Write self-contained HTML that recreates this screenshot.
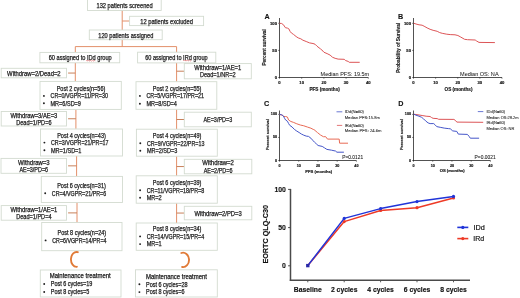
<!DOCTYPE html>
<html><head><meta charset="utf-8"><style>
html,body{margin:0;padding:0;background:#fff;}
body{width:520px;height:298px;overflow:hidden;}
svg{display:block;font-family:"Liberation Sans", sans-serif;will-change:transform;}
</style></head><body>
<svg width="520" height="298" viewBox="0 0 520 298">
<line x1="122.2" y1="10" x2="122.2" y2="30" stroke="#e3906a" stroke-width="1.0"/>
<line x1="122.2" y1="21" x2="129.6" y2="21" stroke="#e3906a" stroke-width="1.0"/>
<line x1="122.2" y1="39.7" x2="122.2" y2="46.6" stroke="#e3906a" stroke-width="1.0"/>
<line x1="75.3" y1="46.6" x2="176.6" y2="46.6" stroke="#e3906a" stroke-width="1.0"/>
<line x1="75.3" y1="46.6" x2="75.3" y2="52.4" stroke="#e3906a" stroke-width="1.0"/>
<line x1="176.6" y1="46.6" x2="176.6" y2="52.2" stroke="#e3906a" stroke-width="1.0"/>
<line x1="75.3" y1="62.8" x2="75.3" y2="81.4" stroke="#e3906a" stroke-width="1.0"/>
<line x1="75.9" y1="109.4" x2="75.9" y2="128.8" stroke="#e3906a" stroke-width="1.0"/>
<line x1="76.6" y1="155.7" x2="76.6" y2="176.5" stroke="#e3906a" stroke-width="1.0"/>
<line x1="77.0" y1="201.8" x2="77.0" y2="222.7" stroke="#e3906a" stroke-width="1.0"/>
<line x1="176.6" y1="62.9" x2="176.6" y2="81.7" stroke="#e3906a" stroke-width="1.0"/>
<line x1="176.6" y1="109.3" x2="176.6" y2="129.2" stroke="#e3906a" stroke-width="1.0"/>
<line x1="176.6" y1="156.2" x2="176.6" y2="175.9" stroke="#e3906a" stroke-width="1.0"/>
<line x1="176.6" y1="203.2" x2="176.6" y2="223.0" stroke="#e3906a" stroke-width="1.0"/>
<rect x="87.5" y="-1" width="73.70" height="11.50" fill="#fff" stroke="#d3dbd0" stroke-width="0.9"/>
<text x="124.60" y="5.70" font-size="6.3" text-anchor="middle" font-weight="normal" fill="#1e1e1e" dominant-baseline="central" textLength="56.23" lengthAdjust="spacingAndGlyphs" stroke="#1e1e1e" stroke-width="0.25">132 patients screened</text>
<rect x="129.6" y="16.3" width="74.00" height="9.30" fill="#fff" stroke="#d3dbd0" stroke-width="0.9"/>
<text x="166.60" y="21.00" font-size="6.3" text-anchor="middle" font-weight="normal" fill="#1e1e1e" dominant-baseline="central" textLength="52.74" lengthAdjust="spacingAndGlyphs" stroke="#1e1e1e" stroke-width="0.25">12 patients excluded</text>
<rect x="89.3" y="30" width="72.90" height="9.70" fill="#fff" stroke="#d3dbd0" stroke-width="0.9"/>
<text x="125.80" y="35.00" font-size="6.3" text-anchor="middle" font-weight="normal" fill="#1e1e1e" dominant-baseline="central" textLength="54.99" lengthAdjust="spacingAndGlyphs" stroke="#1e1e1e" stroke-width="0.25">120 patients assigned</text>
<rect x="39.9" y="52.4" width="79.80" height="10.40" fill="#fff" stroke="#d3dbd0" stroke-width="0.9"/>
<text x="80.20" y="57.80" font-size="6.3" text-anchor="middle" font-weight="normal" fill="#1e1e1e" dominant-baseline="central" textLength="62.99" lengthAdjust="spacingAndGlyphs" stroke="#1e1e1e" stroke-width="0.25">60 assigned to IDd group</text>
<path d="M86.1,60.8 L87.00,60.3 L87.90,61.099999999999994 L88.80,60.3 L89.70,61.099999999999994 L90.60,60.3 L91.50,61.099999999999994 L92.40,60.3 L93.30,61.099999999999994 L94.20,60.3 L95.10,61.099999999999994" fill="none" stroke="#e03030" stroke-width="0.45"/>
<rect x="137.6" y="52.2" width="78.20" height="10.70" fill="#fff" stroke="#d3dbd0" stroke-width="0.9"/>
<text x="176.40" y="57.70" font-size="6.3" text-anchor="middle" font-weight="normal" fill="#1e1e1e" dominant-baseline="central" textLength="62.54" lengthAdjust="spacingAndGlyphs" stroke="#1e1e1e" stroke-width="0.25">60 assigned to IRd group</text>
<path d="M183.3,60.6 L184.20,60.1 L185.10,60.9 L186.00,60.1 L186.90,60.9 L187.80,60.1 L188.70,60.9 L189.60,60.1 L190.50,60.9 L191.40,60.1" fill="none" stroke="#e03030" stroke-width="0.45"/>
<line x1="68.1" y1="73.05" x2="75.3" y2="73.05" stroke="#c8805a" stroke-width="1.0"/>
<rect x="1.2" y="68.3" width="65.30" height="9.50" fill="#fff" stroke="#d3dbd0" stroke-width="0.9"/>
<text x="33.85" y="73.05" font-size="6.3" text-anchor="middle" font-weight="normal" fill="#1e1e1e" dominant-baseline="central" textLength="53.50" lengthAdjust="spacingAndGlyphs" stroke="#1e1e1e" stroke-width="0.25">Withdraw=2/Dead=2</text>
<rect x="40" y="81.4" width="81.30" height="28.00" fill="#fff" stroke="#d3dbd0" stroke-width="0.9"/>
<text x="81.00" y="88.30" font-size="6.3" text-anchor="middle" font-weight="normal" fill="#1e1e1e" dominant-baseline="central" textLength="48.68" lengthAdjust="spacingAndGlyphs" stroke="#1e1e1e" stroke-width="0.25">Post 2 cycles(n=56)</text>
<circle cx="43.90" cy="95.90" r="0.95" fill="#1e1e1e"/>
<text x="50.50" y="95.70" font-size="6.3" text-anchor="start" font-weight="normal" fill="#1e1e1e" dominant-baseline="central" textLength="57.47" lengthAdjust="spacingAndGlyphs" stroke="#1e1e1e" stroke-width="0.25">CR=0/VGPR=11/PR=30</text>
<circle cx="43.90" cy="103.30" r="0.95" fill="#1e1e1e"/>
<text x="50.50" y="103.10" font-size="6.3" text-anchor="start" font-weight="normal" fill="#1e1e1e" dominant-baseline="central" textLength="30.43" lengthAdjust="spacingAndGlyphs" stroke="#1e1e1e" stroke-width="0.25">MR=6/SD=9</text>
<line x1="68.1" y1="118.75" x2="75.9" y2="118.75" stroke="#c8805a" stroke-width="1.0"/>
<rect x="1.2" y="111.5" width="65.30" height="14.50" fill="#fff" stroke="#d3dbd0" stroke-width="0.9"/>
<text x="33.85" y="115.05" font-size="6.3" text-anchor="middle" font-weight="normal" fill="#1e1e1e" dominant-baseline="central" textLength="46.94" lengthAdjust="spacingAndGlyphs" stroke="#1e1e1e" stroke-width="0.25">Withdraw=3/AE=3</text>
<text x="33.85" y="122.45" font-size="6.3" text-anchor="middle" font-weight="normal" fill="#1e1e1e" dominant-baseline="central" textLength="35.28" lengthAdjust="spacingAndGlyphs" stroke="#1e1e1e" stroke-width="0.25">Dead=1/PD=6</text>
<rect x="40.5" y="129.0" width="82.00" height="27.00" fill="#fff" stroke="#d3dbd0" stroke-width="0.9"/>
<text x="81.50" y="135.00" font-size="6.3" text-anchor="middle" font-weight="normal" fill="#1e1e1e" dominant-baseline="central" textLength="48.68" lengthAdjust="spacingAndGlyphs" stroke="#1e1e1e" stroke-width="0.25">Post 4 cycles(n=43)</text>
<circle cx="44.40" cy="142.60" r="0.95" fill="#1e1e1e"/>
<text x="51.00" y="142.40" font-size="6.3" text-anchor="start" font-weight="normal" fill="#1e1e1e" dominant-baseline="central" textLength="57.47" lengthAdjust="spacingAndGlyphs" stroke="#1e1e1e" stroke-width="0.25">CR=3/VGPR=21/PR=17</text>
<circle cx="44.40" cy="150.20" r="0.95" fill="#1e1e1e"/>
<text x="51.00" y="150.00" font-size="6.3" text-anchor="start" font-weight="normal" fill="#1e1e1e" dominant-baseline="central" textLength="30.43" lengthAdjust="spacingAndGlyphs" stroke="#1e1e1e" stroke-width="0.25">MR=1/SD=1</text>
<line x1="68.1" y1="165.85000000000002" x2="76.6" y2="165.85000000000002" stroke="#c8805a" stroke-width="1.0"/>
<rect x="1.0" y="158.4" width="65.50" height="14.90" fill="#fff" stroke="#d3dbd0" stroke-width="0.9"/>
<text x="33.75" y="162.15" font-size="6.3" text-anchor="middle" font-weight="normal" fill="#1e1e1e" dominant-baseline="central" textLength="31.57" lengthAdjust="spacingAndGlyphs" stroke="#1e1e1e" stroke-width="0.25">Withdraw=3</text>
<text x="33.75" y="169.55" font-size="6.3" text-anchor="middle" font-weight="normal" fill="#1e1e1e" dominant-baseline="central" textLength="28.72" lengthAdjust="spacingAndGlyphs" stroke="#1e1e1e" stroke-width="0.25">AE=3/PD=6</text>
<rect x="41.3" y="176.4" width="81.20" height="26.10" fill="#fff" stroke="#d3dbd0" stroke-width="0.9"/>
<text x="81.50" y="185.90" font-size="6.3" text-anchor="middle" font-weight="normal" fill="#1e1e1e" dominant-baseline="central" textLength="48.68" lengthAdjust="spacingAndGlyphs" stroke="#1e1e1e" stroke-width="0.25">Post 6 cycles(n=31)</text>
<circle cx="45.20" cy="193.20" r="0.95" fill="#1e1e1e"/>
<text x="51.80" y="193.00" font-size="6.3" text-anchor="start" font-weight="normal" fill="#1e1e1e" dominant-baseline="central" textLength="54.30" lengthAdjust="spacingAndGlyphs" stroke="#1e1e1e" stroke-width="0.25">CR=4/VGPR=21/PR=6</text>
<line x1="68.1" y1="212.89999999999998" x2="77.0" y2="212.89999999999998" stroke="#c8805a" stroke-width="1.0"/>
<rect x="1.2" y="205.6" width="65.30" height="14.60" fill="#fff" stroke="#d3dbd0" stroke-width="0.9"/>
<text x="33.85" y="209.20" font-size="6.3" text-anchor="middle" font-weight="normal" fill="#1e1e1e" dominant-baseline="central" textLength="46.94" lengthAdjust="spacingAndGlyphs" stroke="#1e1e1e" stroke-width="0.25">Withdraw=1/AE=1</text>
<text x="33.85" y="216.60" font-size="6.3" text-anchor="middle" font-weight="normal" fill="#1e1e1e" dominant-baseline="central" textLength="35.28" lengthAdjust="spacingAndGlyphs" stroke="#1e1e1e" stroke-width="0.25">Dead=1/PD=4</text>
<rect x="41.7" y="222.5" width="80.30" height="28.20" fill="#fff" stroke="#d3dbd0" stroke-width="0.9"/>
<text x="81.80" y="232.80" font-size="6.3" text-anchor="middle" font-weight="normal" fill="#1e1e1e" dominant-baseline="central" textLength="48.68" lengthAdjust="spacingAndGlyphs" stroke="#1e1e1e" stroke-width="0.25">Post 8 cycles(n=24)</text>
<circle cx="45.60" cy="240.40" r="0.95" fill="#1e1e1e"/>
<text x="52.20" y="240.20" font-size="6.3" text-anchor="start" font-weight="normal" fill="#1e1e1e" dominant-baseline="central" textLength="54.30" lengthAdjust="spacingAndGlyphs" stroke="#1e1e1e" stroke-width="0.25">CR=6/VGPR=14/PR=4</text>
<rect x="40.3" y="270.0" width="80.70" height="27.00" fill="#fff" stroke="#d3dbd0" stroke-width="0.9"/>
<text x="80.20" y="275.80" font-size="6.3" text-anchor="middle" font-weight="normal" fill="#1e1e1e" dominant-baseline="central" textLength="60.94" lengthAdjust="spacingAndGlyphs" stroke="#1e1e1e" stroke-width="0.25">Maintenance treatment</text>
<circle cx="44.20" cy="284.00" r="0.95" fill="#1e1e1e"/>
<text x="50.80" y="283.80" font-size="6.3" text-anchor="start" font-weight="normal" fill="#1e1e1e" dominant-baseline="central" textLength="41.61" lengthAdjust="spacingAndGlyphs" stroke="#1e1e1e" stroke-width="0.25">Post 6 cycles=19</text>
<circle cx="44.20" cy="292.00" r="0.95" fill="#1e1e1e"/>
<text x="50.80" y="291.80" font-size="6.3" text-anchor="start" font-weight="normal" fill="#1e1e1e" dominant-baseline="central" textLength="38.44" lengthAdjust="spacingAndGlyphs" stroke="#1e1e1e" stroke-width="0.25">Post 8 cycles=5</text>
<line x1="176.6" y1="71.2" x2="184.3" y2="71.2" stroke="#c8805a" stroke-width="1.0"/>
<rect x="184.3" y="63.6" width="67.00" height="15.20" fill="#fff" stroke="#d3dbd0" stroke-width="0.9"/>
<text x="217.80" y="67.50" font-size="6.3" text-anchor="middle" font-weight="normal" fill="#1e1e1e" dominant-baseline="central" textLength="46.94" lengthAdjust="spacingAndGlyphs" stroke="#1e1e1e" stroke-width="0.25">Withdraw=1/AE=1</text>
<text x="217.80" y="74.90" font-size="6.3" text-anchor="middle" font-weight="normal" fill="#1e1e1e" dominant-baseline="central" textLength="35.64" lengthAdjust="spacingAndGlyphs" stroke="#1e1e1e" stroke-width="0.25">Dead=1/NR=2</text>
<rect x="136" y="81.7" width="80.80" height="27.60" fill="#fff" stroke="#d3dbd0" stroke-width="0.9"/>
<text x="177.10" y="88.30" font-size="6.3" text-anchor="middle" font-weight="normal" fill="#1e1e1e" dominant-baseline="central" textLength="48.68" lengthAdjust="spacingAndGlyphs" stroke="#1e1e1e" stroke-width="0.25">Post 2 cycles(n=55)</text>
<circle cx="139.90" cy="95.90" r="0.95" fill="#1e1e1e"/>
<text x="146.50" y="95.70" font-size="6.3" text-anchor="start" font-weight="normal" fill="#1e1e1e" dominant-baseline="central" textLength="57.47" lengthAdjust="spacingAndGlyphs" stroke="#1e1e1e" stroke-width="0.25">CR=5/VGPR=17/PR=21</text>
<circle cx="139.90" cy="103.70" r="0.95" fill="#1e1e1e"/>
<text x="146.50" y="103.50" font-size="6.3" text-anchor="start" font-weight="normal" fill="#1e1e1e" dominant-baseline="central" textLength="30.43" lengthAdjust="spacingAndGlyphs" stroke="#1e1e1e" stroke-width="0.25">MR=8/SD=4</text>
<line x1="176.6" y1="119.5" x2="184.3" y2="119.5" stroke="#c8805a" stroke-width="1.0"/>
<rect x="184.3" y="112.2" width="67.00" height="14.60" fill="#fff" stroke="#d3dbd0" stroke-width="0.9"/>
<text x="217.80" y="119.50" font-size="6.3" text-anchor="middle" font-weight="normal" fill="#1e1e1e" dominant-baseline="central" textLength="28.72" lengthAdjust="spacingAndGlyphs" stroke="#1e1e1e" stroke-width="0.25">AE=3/PD=3</text>
<rect x="136.4" y="129.2" width="80.90" height="27.00" fill="#fff" stroke="#d3dbd0" stroke-width="0.9"/>
<text x="177.10" y="135.40" font-size="6.3" text-anchor="middle" font-weight="normal" fill="#1e1e1e" dominant-baseline="central" textLength="48.68" lengthAdjust="spacingAndGlyphs" stroke="#1e1e1e" stroke-width="0.25">Post 4 cycles(n=49)</text>
<circle cx="140.30" cy="143.20" r="0.95" fill="#1e1e1e"/>
<text x="146.90" y="143.00" font-size="6.3" text-anchor="start" font-weight="normal" fill="#1e1e1e" dominant-baseline="central" textLength="57.47" lengthAdjust="spacingAndGlyphs" stroke="#1e1e1e" stroke-width="0.25">CR=9/VGPR=22/PR=13</text>
<circle cx="140.30" cy="150.80" r="0.95" fill="#1e1e1e"/>
<text x="146.90" y="150.60" font-size="6.3" text-anchor="start" font-weight="normal" fill="#1e1e1e" dominant-baseline="central" textLength="30.43" lengthAdjust="spacingAndGlyphs" stroke="#1e1e1e" stroke-width="0.25">MR=2/SD=3</text>
<line x1="176.6" y1="166.55" x2="184.3" y2="166.55" stroke="#c8805a" stroke-width="1.0"/>
<rect x="184.3" y="159.3" width="67.50" height="14.50" fill="#fff" stroke="#d3dbd0" stroke-width="0.9"/>
<text x="218.05" y="162.85" font-size="6.3" text-anchor="middle" font-weight="normal" fill="#1e1e1e" dominant-baseline="central" textLength="31.57" lengthAdjust="spacingAndGlyphs" stroke="#1e1e1e" stroke-width="0.25">Withdraw=2</text>
<text x="218.05" y="170.25" font-size="6.3" text-anchor="middle" font-weight="normal" fill="#1e1e1e" dominant-baseline="central" textLength="28.72" lengthAdjust="spacingAndGlyphs" stroke="#1e1e1e" stroke-width="0.25">AE=2/PD=6</text>
<rect x="136.2" y="175.8" width="81.10" height="27.40" fill="#fff" stroke="#d3dbd0" stroke-width="0.9"/>
<text x="177.10" y="182.30" font-size="6.3" text-anchor="middle" font-weight="normal" fill="#1e1e1e" dominant-baseline="central" textLength="48.68" lengthAdjust="spacingAndGlyphs" stroke="#1e1e1e" stroke-width="0.25">Post 6 cycles(n=39)</text>
<circle cx="140.10" cy="190.20" r="0.95" fill="#1e1e1e"/>
<text x="146.70" y="190.00" font-size="6.3" text-anchor="start" font-weight="normal" fill="#1e1e1e" dominant-baseline="central" textLength="57.47" lengthAdjust="spacingAndGlyphs" stroke="#1e1e1e" stroke-width="0.25">CR=11/VGPR=18/PR=8</text>
<circle cx="140.10" cy="197.70" r="0.95" fill="#1e1e1e"/>
<text x="146.70" y="197.50" font-size="6.3" text-anchor="start" font-weight="normal" fill="#1e1e1e" dominant-baseline="central" textLength="15.02" lengthAdjust="spacingAndGlyphs" stroke="#1e1e1e" stroke-width="0.25">MR=2</text>
<line x1="176.6" y1="213.05" x2="184.3" y2="213.05" stroke="#c8805a" stroke-width="1.0"/>
<rect x="184.3" y="206.3" width="67.50" height="13.50" fill="#fff" stroke="#d3dbd0" stroke-width="0.9"/>
<text x="218.05" y="213.05" font-size="6.3" text-anchor="middle" font-weight="normal" fill="#1e1e1e" dominant-baseline="central" textLength="47.34" lengthAdjust="spacingAndGlyphs" stroke="#1e1e1e" stroke-width="0.25">Withdraw=2/PD=3</text>
<rect x="136.2" y="223.0" width="81.10" height="27.30" fill="#fff" stroke="#d3dbd0" stroke-width="0.9"/>
<text x="177.10" y="228.90" font-size="6.3" text-anchor="middle" font-weight="normal" fill="#1e1e1e" dominant-baseline="central" textLength="48.68" lengthAdjust="spacingAndGlyphs" stroke="#1e1e1e" stroke-width="0.25">Post 8 cycles(n=34)</text>
<circle cx="140.10" cy="236.40" r="0.95" fill="#1e1e1e"/>
<text x="146.70" y="236.20" font-size="6.3" text-anchor="start" font-weight="normal" fill="#1e1e1e" dominant-baseline="central" textLength="57.47" lengthAdjust="spacingAndGlyphs" stroke="#1e1e1e" stroke-width="0.25">CR=14/VGPR=15/PR=4</text>
<circle cx="140.10" cy="244.10" r="0.95" fill="#1e1e1e"/>
<text x="146.70" y="243.90" font-size="6.3" text-anchor="start" font-weight="normal" fill="#1e1e1e" dominant-baseline="central" textLength="15.02" lengthAdjust="spacingAndGlyphs" stroke="#1e1e1e" stroke-width="0.25">MR=1</text>
<rect x="135.5" y="269.8" width="81.80" height="27.20" fill="#fff" stroke="#d3dbd0" stroke-width="0.9"/>
<text x="176.50" y="276.30" font-size="6.3" text-anchor="middle" font-weight="normal" fill="#1e1e1e" dominant-baseline="central" textLength="60.94" lengthAdjust="spacingAndGlyphs" stroke="#1e1e1e" stroke-width="0.25">Maintenance treatment</text>
<circle cx="139.40" cy="284.20" r="0.95" fill="#1e1e1e"/>
<text x="146.00" y="284.00" font-size="6.3" text-anchor="start" font-weight="normal" fill="#1e1e1e" dominant-baseline="central" textLength="41.61" lengthAdjust="spacingAndGlyphs" stroke="#1e1e1e" stroke-width="0.25">Post 6 cycles=28</text>
<circle cx="139.40" cy="292.10" r="0.95" fill="#1e1e1e"/>
<text x="146.00" y="291.90" font-size="6.3" text-anchor="start" font-weight="normal" fill="#1e1e1e" dominant-baseline="central" textLength="38.44" lengthAdjust="spacingAndGlyphs" stroke="#1e1e1e" stroke-width="0.25">Post 8 cycles=6</text>
<path d="M77.8,252.2 A5.6,7.4 0 1 0 76.9,266.8" fill="none" stroke="#e07a36" stroke-width="1.85" stroke-linecap="round"/>
<path d="M181.3,253 A6,7.2 0 1 1 182.1,267" fill="none" stroke="#e07a36" stroke-width="1.85" stroke-linecap="round"/>
<line x1="279.5" y1="18" x2="279.5" y2="77.9" stroke="#333" stroke-width="0.85"/>
<line x1="279.1" y1="77.5" x2="368.3" y2="77.5" stroke="#333" stroke-width="0.85"/>
<line x1="278.2" y1="23.299999999999997" x2="279.5" y2="23.299999999999997" stroke="#1a1a1a" stroke-width="0.6"/>
<text x="277.00" y="23.30" font-size="4.2" text-anchor="end" font-weight="bold" fill="#1a1a1a" dominant-baseline="central" stroke="#1a1a1a" stroke-width="0.18">100</text>
<line x1="278.2" y1="50.4" x2="279.5" y2="50.4" stroke="#1a1a1a" stroke-width="0.6"/>
<text x="277.00" y="50.40" font-size="4.2" text-anchor="end" font-weight="bold" fill="#1a1a1a" dominant-baseline="central" stroke="#1a1a1a" stroke-width="0.18">50</text>
<line x1="278.2" y1="77.5" x2="279.5" y2="77.5" stroke="#1a1a1a" stroke-width="0.6"/>
<text x="277.00" y="77.50" font-size="4.2" text-anchor="end" font-weight="bold" fill="#1a1a1a" dominant-baseline="central" stroke="#1a1a1a" stroke-width="0.18">0</text>
<line x1="279.5" y1="77.5" x2="279.5" y2="78.7" stroke="#1a1a1a" stroke-width="0.6"/>
<text x="279.50" y="82.70" font-size="4.2" text-anchor="middle" font-weight="bold" fill="#1a1a1a" dominant-baseline="central" stroke="#1a1a1a" stroke-width="0.18">0</text>
<line x1="301.7" y1="77.5" x2="301.7" y2="78.7" stroke="#1a1a1a" stroke-width="0.6"/>
<text x="301.70" y="82.70" font-size="4.2" text-anchor="middle" font-weight="bold" fill="#1a1a1a" dominant-baseline="central" stroke="#1a1a1a" stroke-width="0.18">10</text>
<line x1="323.9" y1="77.5" x2="323.9" y2="78.7" stroke="#1a1a1a" stroke-width="0.6"/>
<text x="323.90" y="82.70" font-size="4.2" text-anchor="middle" font-weight="bold" fill="#1a1a1a" dominant-baseline="central" stroke="#1a1a1a" stroke-width="0.18">20</text>
<line x1="346.1" y1="77.5" x2="346.1" y2="78.7" stroke="#1a1a1a" stroke-width="0.6"/>
<text x="346.10" y="82.70" font-size="4.2" text-anchor="middle" font-weight="bold" fill="#1a1a1a" dominant-baseline="central" stroke="#1a1a1a" stroke-width="0.18">30</text>
<line x1="368.3" y1="77.5" x2="368.3" y2="78.7" stroke="#1a1a1a" stroke-width="0.6"/>
<text x="368.30" y="82.70" font-size="4.2" text-anchor="middle" font-weight="bold" fill="#1a1a1a" dominant-baseline="central" stroke="#1a1a1a" stroke-width="0.18">40</text>
<text x="324.60" y="89.60" font-size="4.7" text-anchor="middle" font-weight="bold" fill="#1a1a1a" dominant-baseline="central" textLength="30.40" lengthAdjust="spacingAndGlyphs" stroke="#1a1a1a" stroke-width="0.18">PFS (months)</text>
<text transform="translate(264.3,47.4) rotate(-90)" font-size="4.7" font-weight="bold" text-anchor="middle" dominant-baseline="central" fill="#1a1a1a" stroke="#1a1a1a" stroke-width="0.15" textLength="36.3" lengthAdjust="spacingAndGlyphs">Percent survival</text>
<text x="264.50" y="16.90" font-size="7.2" text-anchor="start" font-weight="bold" fill="#111" dominant-baseline="central" stroke="#111" stroke-width="0.1">A</text>
<polyline points="279.5,23.4 281.4,23.4 283.4,24.7 285.4,27.7 287.4,28.1 288.8,28.8 290.1,31.4 291.4,33 293.5,34.4 296.1,36.5 298.2,37.9 300.8,38.8 302.9,40.2 306.2,41.5 309.6,42.9 313,43.5 315,44.2 317,46.2 318,47 320.5,48.9 323,51.1 324,52.3 327.1,53.6 330.1,55.1 332.6,57.3 335.1,58.3 338.1,59.1 344.2,59.3 345.7,60.6 348.2,61.4 349.2,62.3 359.7,62.3" fill="none" stroke="#dc5456" stroke-width="1.0" stroke-linejoin="round"/>
<text x="320.60" y="73.60" font-size="5.5" text-anchor="start" font-weight="normal" fill="#1a1a1a" dominant-baseline="central" textLength="48.60" lengthAdjust="spacingAndGlyphs" stroke="#1a1a1a" stroke-width="0.04">Median PFS: 19.5m</text>
<line x1="413.5" y1="18" x2="413.5" y2="77.9" stroke="#333" stroke-width="0.85"/>
<line x1="413.1" y1="77.5" x2="502.0" y2="77.5" stroke="#333" stroke-width="0.85"/>
<line x1="412.2" y1="23.299999999999997" x2="413.5" y2="23.299999999999997" stroke="#1a1a1a" stroke-width="0.6"/>
<text x="411.00" y="23.30" font-size="4.2" text-anchor="end" font-weight="bold" fill="#1a1a1a" dominant-baseline="central" stroke="#1a1a1a" stroke-width="0.18">100</text>
<line x1="412.2" y1="50.4" x2="413.5" y2="50.4" stroke="#1a1a1a" stroke-width="0.6"/>
<text x="411.00" y="50.40" font-size="4.2" text-anchor="end" font-weight="bold" fill="#1a1a1a" dominant-baseline="central" stroke="#1a1a1a" stroke-width="0.18">50</text>
<line x1="412.2" y1="77.5" x2="413.5" y2="77.5" stroke="#1a1a1a" stroke-width="0.6"/>
<text x="411.00" y="77.50" font-size="4.2" text-anchor="end" font-weight="bold" fill="#1a1a1a" dominant-baseline="central" stroke="#1a1a1a" stroke-width="0.18">0</text>
<line x1="413.5" y1="77.5" x2="413.5" y2="78.7" stroke="#1a1a1a" stroke-width="0.6"/>
<text x="413.50" y="82.70" font-size="4.2" text-anchor="middle" font-weight="bold" fill="#1a1a1a" dominant-baseline="central" stroke="#1a1a1a" stroke-width="0.18">0</text>
<line x1="435.625" y1="77.5" x2="435.625" y2="78.7" stroke="#1a1a1a" stroke-width="0.6"/>
<text x="435.62" y="82.70" font-size="4.2" text-anchor="middle" font-weight="bold" fill="#1a1a1a" dominant-baseline="central" stroke="#1a1a1a" stroke-width="0.18">10</text>
<line x1="457.75" y1="77.5" x2="457.75" y2="78.7" stroke="#1a1a1a" stroke-width="0.6"/>
<text x="457.75" y="82.70" font-size="4.2" text-anchor="middle" font-weight="bold" fill="#1a1a1a" dominant-baseline="central" stroke="#1a1a1a" stroke-width="0.18">20</text>
<line x1="479.875" y1="77.5" x2="479.875" y2="78.7" stroke="#1a1a1a" stroke-width="0.6"/>
<text x="479.88" y="82.70" font-size="4.2" text-anchor="middle" font-weight="bold" fill="#1a1a1a" dominant-baseline="central" stroke="#1a1a1a" stroke-width="0.18">30</text>
<line x1="502.0" y1="77.5" x2="502.0" y2="78.7" stroke="#1a1a1a" stroke-width="0.6"/>
<text x="502.00" y="82.70" font-size="4.2" text-anchor="middle" font-weight="bold" fill="#1a1a1a" dominant-baseline="central" stroke="#1a1a1a" stroke-width="0.18">40</text>
<text x="458.50" y="89.40" font-size="4.7" text-anchor="middle" font-weight="bold" fill="#1a1a1a" dominant-baseline="central" textLength="27.90" lengthAdjust="spacingAndGlyphs" stroke="#1a1a1a" stroke-width="0.18">OS (months)</text>
<text transform="translate(398.6,47.8) rotate(-90)" font-size="4.7" font-weight="bold" text-anchor="middle" dominant-baseline="central" fill="#1a1a1a" stroke="#1a1a1a" stroke-width="0.15" textLength="50" lengthAdjust="spacingAndGlyphs">Probability of Survival</text>
<text x="398.10" y="16.80" font-size="7.2" text-anchor="start" font-weight="bold" fill="#111" dominant-baseline="central" stroke="#111" stroke-width="0.1">B</text>
<polyline points="413.7,23.2 416,24 419,24.8 422.1,25.2 424.1,26.2 427.1,27.9 430.1,29.3 433.1,30.3 437.2,31.3 439.7,32.6 442.2,33.3 446.2,34.1 450.2,34.6 455,34.8 457.9,35.5 460.8,37.1 464.6,39.3 467.5,39.7 475.2,40 476.6,41 479,42.4 494.9,42.6" fill="none" stroke="#dc5456" stroke-width="1.0" stroke-linejoin="round"/>
<text x="460.00" y="73.60" font-size="5.5" text-anchor="start" font-weight="normal" fill="#1a1a1a" dominant-baseline="central" textLength="38.60" lengthAdjust="spacingAndGlyphs" stroke="#1a1a1a" stroke-width="0.04">Median OS: NA</text>
<line x1="279.5" y1="110.5" x2="279.5" y2="160.9" stroke="#333" stroke-width="0.85"/>
<line x1="279.1" y1="160.5" x2="356.4" y2="160.5" stroke="#333" stroke-width="0.85"/>
<line x1="278.2" y1="114.4" x2="279.5" y2="114.4" stroke="#1a1a1a" stroke-width="0.6"/>
<text x="277.00" y="114.40" font-size="3.7" text-anchor="end" font-weight="bold" fill="#1a1a1a" dominant-baseline="central" stroke="#1a1a1a" stroke-width="0.18">100</text>
<line x1="278.2" y1="137.45" x2="279.5" y2="137.45" stroke="#1a1a1a" stroke-width="0.6"/>
<text x="277.00" y="137.45" font-size="3.7" text-anchor="end" font-weight="bold" fill="#1a1a1a" dominant-baseline="central" stroke="#1a1a1a" stroke-width="0.18">50</text>
<line x1="278.2" y1="160.5" x2="279.5" y2="160.5" stroke="#1a1a1a" stroke-width="0.6"/>
<text x="277.00" y="160.50" font-size="3.7" text-anchor="end" font-weight="bold" fill="#1a1a1a" dominant-baseline="central" stroke="#1a1a1a" stroke-width="0.18">0</text>
<line x1="279.5" y1="160.5" x2="279.5" y2="161.7" stroke="#1a1a1a" stroke-width="0.6"/>
<text x="279.50" y="165.50" font-size="3.7" text-anchor="middle" font-weight="bold" fill="#1a1a1a" dominant-baseline="central" stroke="#1a1a1a" stroke-width="0.18">0</text>
<line x1="298.725" y1="160.5" x2="298.725" y2="161.7" stroke="#1a1a1a" stroke-width="0.6"/>
<text x="298.73" y="165.50" font-size="3.7" text-anchor="middle" font-weight="bold" fill="#1a1a1a" dominant-baseline="central" stroke="#1a1a1a" stroke-width="0.18">10</text>
<line x1="317.95" y1="160.5" x2="317.95" y2="161.7" stroke="#1a1a1a" stroke-width="0.6"/>
<text x="317.95" y="165.50" font-size="3.7" text-anchor="middle" font-weight="bold" fill="#1a1a1a" dominant-baseline="central" stroke="#1a1a1a" stroke-width="0.18">20</text>
<line x1="337.175" y1="160.5" x2="337.175" y2="161.7" stroke="#1a1a1a" stroke-width="0.6"/>
<text x="337.18" y="165.50" font-size="3.7" text-anchor="middle" font-weight="bold" fill="#1a1a1a" dominant-baseline="central" stroke="#1a1a1a" stroke-width="0.18">30</text>
<line x1="356.4" y1="160.5" x2="356.4" y2="161.7" stroke="#1a1a1a" stroke-width="0.6"/>
<text x="356.40" y="165.50" font-size="3.7" text-anchor="middle" font-weight="bold" fill="#1a1a1a" dominant-baseline="central" stroke="#1a1a1a" stroke-width="0.18">40</text>
<text x="318.70" y="171.30" font-size="4.1" text-anchor="middle" font-weight="bold" fill="#1a1a1a" dominant-baseline="central" textLength="26.80" lengthAdjust="spacingAndGlyphs" stroke="#1a1a1a" stroke-width="0.18">PFS (months)</text>
<text transform="translate(267.0,134.6) rotate(-90)" font-size="4.1" font-weight="bold" text-anchor="middle" dominant-baseline="central" fill="#1a1a1a" stroke="#1a1a1a" stroke-width="0.15" textLength="31" lengthAdjust="spacingAndGlyphs">Percent survival</text>
<text x="264.00" y="103.40" font-size="7.2" text-anchor="start" font-weight="bold" fill="#111" dominant-baseline="central" stroke="#111" stroke-width="0.1">C</text>
<polyline points="279.6,114.5 282.7,115.3 283.9,116.5 285.6,116.5 287.4,117 288.6,120 290.9,121.5 293.3,122.3 296.8,123.8 300.3,125 303.8,125.8 307.3,127 310.9,128.2 313.2,129.4 314,129.6 317.5,132.6 320.5,135 323.4,136.7 325.7,136.7 327.5,139.1 339.2,139.1 339.6,143.2 348,143.2" fill="none" stroke="#e86a55" stroke-width="1.0" stroke-linejoin="round"/>
<polyline points="279.6,114.5 281.5,114.7 283.3,115.9 284.5,118.2 285.6,120 287.4,121.2 288.6,123.5 289.7,125.3 292.1,127 294.4,129.4 296.8,131.1 299.1,132.5 301.5,134.1 303.8,135.2 306.2,136.1 308.5,136.4 310.9,138.2 313.2,140.8 314.5,142.2 316.3,143.8 318.1,145.5 322.2,146.4 324.6,147.9 326.9,149.4 331.6,150.2 335.7,151.1 336.9,152.2 343.9,152.2" fill="none" stroke="#4455c8" stroke-width="1.0" stroke-linejoin="round"/>
<line x1="336.5" y1="111.8" x2="342.3" y2="111.8" stroke="#4455c8" stroke-width="0.8"/>
<line x1="336.9" y1="125.4" x2="342.2" y2="125.4" stroke="#dc5456" stroke-width="0.8"/>
<text x="344.70" y="111.80" font-size="4.1" text-anchor="start" font-weight="normal" fill="#1a1a1a" dominant-baseline="central" textLength="19.30" lengthAdjust="spacingAndGlyphs" stroke="#1a1a1a" stroke-width="0.06">IDd(N=60)</text>
<text x="344.70" y="117.10" font-size="4.1" text-anchor="start" font-weight="normal" fill="#1a1a1a" dominant-baseline="central" textLength="35.20" lengthAdjust="spacingAndGlyphs" stroke="#1a1a1a" stroke-width="0.06">Median PFS:15.8m</text>
<text x="344.70" y="125.30" font-size="4.1" text-anchor="start" font-weight="normal" fill="#1a1a1a" dominant-baseline="central" textLength="19.30" lengthAdjust="spacingAndGlyphs" stroke="#1a1a1a" stroke-width="0.06">IRd(N=60)</text>
<text x="344.70" y="130.80" font-size="4.1" text-anchor="start" font-weight="normal" fill="#1a1a1a" dominant-baseline="central" textLength="36.90" lengthAdjust="spacingAndGlyphs" stroke="#1a1a1a" stroke-width="0.06">Median PFS: 24.6m</text>
<text x="342.30" y="157.00" font-size="5.2" text-anchor="start" font-weight="normal" fill="#1a1a1a" dominant-baseline="central" textLength="20.80" lengthAdjust="spacingAndGlyphs" stroke="#1a1a1a" stroke-width="0.08">P=0.0121</text>
<line x1="413.5" y1="110.5" x2="413.5" y2="160.9" stroke="#333" stroke-width="0.85"/>
<line x1="413.1" y1="160.5" x2="490.4" y2="160.5" stroke="#333" stroke-width="0.85"/>
<line x1="412.2" y1="114.4" x2="413.5" y2="114.4" stroke="#1a1a1a" stroke-width="0.6"/>
<text x="411.00" y="114.40" font-size="3.7" text-anchor="end" font-weight="bold" fill="#1a1a1a" dominant-baseline="central" stroke="#1a1a1a" stroke-width="0.18">100</text>
<line x1="412.2" y1="137.45" x2="413.5" y2="137.45" stroke="#1a1a1a" stroke-width="0.6"/>
<text x="411.00" y="137.45" font-size="3.7" text-anchor="end" font-weight="bold" fill="#1a1a1a" dominant-baseline="central" stroke="#1a1a1a" stroke-width="0.18">50</text>
<line x1="412.2" y1="160.5" x2="413.5" y2="160.5" stroke="#1a1a1a" stroke-width="0.6"/>
<text x="411.00" y="160.50" font-size="3.7" text-anchor="end" font-weight="bold" fill="#1a1a1a" dominant-baseline="central" stroke="#1a1a1a" stroke-width="0.18">0</text>
<line x1="413.5" y1="160.5" x2="413.5" y2="161.7" stroke="#1a1a1a" stroke-width="0.6"/>
<text x="413.50" y="165.50" font-size="3.7" text-anchor="middle" font-weight="bold" fill="#1a1a1a" dominant-baseline="central" stroke="#1a1a1a" stroke-width="0.18">0</text>
<line x1="432.725" y1="160.5" x2="432.725" y2="161.7" stroke="#1a1a1a" stroke-width="0.6"/>
<text x="432.73" y="165.50" font-size="3.7" text-anchor="middle" font-weight="bold" fill="#1a1a1a" dominant-baseline="central" stroke="#1a1a1a" stroke-width="0.18">10</text>
<line x1="451.95" y1="160.5" x2="451.95" y2="161.7" stroke="#1a1a1a" stroke-width="0.6"/>
<text x="451.95" y="165.50" font-size="3.7" text-anchor="middle" font-weight="bold" fill="#1a1a1a" dominant-baseline="central" stroke="#1a1a1a" stroke-width="0.18">20</text>
<line x1="471.175" y1="160.5" x2="471.175" y2="161.7" stroke="#1a1a1a" stroke-width="0.6"/>
<text x="471.18" y="165.50" font-size="3.7" text-anchor="middle" font-weight="bold" fill="#1a1a1a" dominant-baseline="central" stroke="#1a1a1a" stroke-width="0.18">30</text>
<line x1="490.4" y1="160.5" x2="490.4" y2="161.7" stroke="#1a1a1a" stroke-width="0.6"/>
<text x="490.40" y="165.50" font-size="3.7" text-anchor="middle" font-weight="bold" fill="#1a1a1a" dominant-baseline="central" stroke="#1a1a1a" stroke-width="0.18">40</text>
<text x="452.20" y="170.80" font-size="4.1" text-anchor="middle" font-weight="bold" fill="#1a1a1a" dominant-baseline="central" textLength="25.00" lengthAdjust="spacingAndGlyphs" stroke="#1a1a1a" stroke-width="0.18">OS (months)</text>
<text transform="translate(401.1,134.6) rotate(-90)" font-size="4.1" font-weight="bold" text-anchor="middle" dominant-baseline="central" fill="#1a1a1a" stroke="#1a1a1a" stroke-width="0.15" textLength="31" lengthAdjust="spacingAndGlyphs">Percent survival</text>
<text x="398.20" y="103.40" font-size="7.2" text-anchor="start" font-weight="bold" fill="#111" dominant-baseline="central" stroke="#111" stroke-width="0.1">D</text>
<polyline points="413.8,114.2 418,114.8 422.1,115.5 426.1,116.2 430.1,116.5 431.6,117.6 433.1,118.3 437.2,118.6 438.7,119.3 453.9,119.4 455.6,120.6 456.8,122.1 483.2,122.3" fill="none" stroke="#dc5456" stroke-width="1.0" stroke-linejoin="round"/>
<polyline points="413.8,114.2 416,115.2 419,116.2 421.6,117.3 423.6,118.9 425.6,120.9 428.1,122.9 430.1,123.6 433.7,123.6 435.2,124.9 436.7,126.6 440.2,127.3 444.2,128.1 448.3,128.6 450.3,128.8 452.7,130.9 456.8,131.4 458.3,134.1 467.4,134.4 469.1,136.4 470.3,138.2 479.1,138.2" fill="none" stroke="#4455c8" stroke-width="1.0" stroke-linejoin="round"/>
<line x1="477.8" y1="111.6" x2="483.3" y2="111.6" stroke="#4455c8" stroke-width="0.8"/>
<text x="486.40" y="111.70" font-size="4.1" text-anchor="start" font-weight="normal" fill="#1a1a1a" dominant-baseline="central" textLength="18.80" lengthAdjust="spacingAndGlyphs" stroke="#1a1a1a" stroke-width="0.06">IDd(N=60)</text>
<text x="486.40" y="117.00" font-size="4.1" text-anchor="start" font-weight="normal" fill="#1a1a1a" dominant-baseline="central" textLength="32.30" lengthAdjust="spacingAndGlyphs" stroke="#1a1a1a" stroke-width="0.06">Median OS:29.2m</text>
<text x="486.40" y="122.90" font-size="4.1" text-anchor="start" font-weight="normal" fill="#1a1a1a" dominant-baseline="central" textLength="18.80" lengthAdjust="spacingAndGlyphs" stroke="#1a1a1a" stroke-width="0.06">IRd(N=60)</text>
<text x="486.40" y="128.20" font-size="4.1" text-anchor="start" font-weight="normal" fill="#1a1a1a" dominant-baseline="central" textLength="28.00" lengthAdjust="spacingAndGlyphs" stroke="#1a1a1a" stroke-width="0.06">Median OS: NR</text>
<text x="474.60" y="157.00" font-size="5.2" text-anchor="start" font-weight="normal" fill="#1a1a1a" dominant-baseline="central" textLength="21.00" lengthAdjust="spacingAndGlyphs" stroke="#1a1a1a" stroke-width="0.08">P=0.0021</text>
<line x1="290.5" y1="188.9" x2="290.5" y2="281.0" stroke="#4a4a4a" stroke-width="1.5"/>
<line x1="289.8" y1="280.3" x2="470" y2="280.3" stroke="#4a4a4a" stroke-width="1.5"/>
<line x1="288.1" y1="189.4" x2="290.5" y2="189.4" stroke="#4a4a4a" stroke-width="1.0"/>
<text x="285.90" y="189.40" font-size="6.9" text-anchor="end" font-weight="bold" fill="#111" dominant-baseline="central" stroke="#111" stroke-width="0.12">100</text>
<line x1="288.1" y1="227.60000000000002" x2="290.5" y2="227.60000000000002" stroke="#4a4a4a" stroke-width="1.0"/>
<text x="285.90" y="227.60" font-size="6.9" text-anchor="end" font-weight="bold" fill="#111" dominant-baseline="central" stroke="#111" stroke-width="0.12">50</text>
<line x1="288.1" y1="265.8" x2="290.5" y2="265.8" stroke="#4a4a4a" stroke-width="1.0"/>
<text x="285.90" y="265.80" font-size="6.9" text-anchor="end" font-weight="bold" fill="#111" dominant-baseline="central" stroke="#111" stroke-width="0.12">0</text>
<line x1="307.8" y1="280.3" x2="307.8" y2="282.3" stroke="#4a4a4a" stroke-width="0.9"/>
<text x="307.80" y="289.30" font-size="6.8" text-anchor="middle" font-weight="bold" fill="#111" dominant-baseline="central" stroke="#111" stroke-width="0.15">Baseline</text>
<line x1="344.2" y1="280.3" x2="344.2" y2="282.3" stroke="#4a4a4a" stroke-width="0.9"/>
<text x="344.20" y="289.30" font-size="6.8" text-anchor="middle" font-weight="bold" fill="#111" dominant-baseline="central" stroke="#111" stroke-width="0.15">2 cycles</text>
<line x1="380.6" y1="280.3" x2="380.6" y2="282.3" stroke="#4a4a4a" stroke-width="0.9"/>
<text x="380.60" y="289.30" font-size="6.8" text-anchor="middle" font-weight="bold" fill="#111" dominant-baseline="central" stroke="#111" stroke-width="0.15">4 cycles</text>
<line x1="417.0" y1="280.3" x2="417.0" y2="282.3" stroke="#4a4a4a" stroke-width="0.9"/>
<text x="417.00" y="289.30" font-size="6.8" text-anchor="middle" font-weight="bold" fill="#111" dominant-baseline="central" stroke="#111" stroke-width="0.15">6 cycles</text>
<line x1="453.5" y1="280.3" x2="453.5" y2="282.3" stroke="#4a4a4a" stroke-width="0.9"/>
<text x="453.50" y="289.30" font-size="6.8" text-anchor="middle" font-weight="bold" fill="#111" dominant-baseline="central" stroke="#111" stroke-width="0.15">8 cycles</text>
<text transform="translate(265.8,234.3) rotate(-90)" font-size="7.4" font-weight="bold" text-anchor="middle" dominant-baseline="central" fill="#111" stroke="#111" stroke-width="0.18" textLength="58.6" lengthAdjust="spacingAndGlyphs">EORTC QLQ-C30</text>
<polyline points="307.8,265.6 344.2,221.6 380.6,210.5 417.0,207.7 453.5,198.0" fill="none" stroke="#ee3a26" stroke-width="1.5" stroke-linejoin="round"/>
<circle cx="344.2" cy="221.6" r="1.6" fill="#ee3a26"/>
<circle cx="380.6" cy="210.5" r="1.6" fill="#ee3a26"/>
<circle cx="417.0" cy="207.7" r="1.6" fill="#ee3a26"/>
<circle cx="453.5" cy="198.0" r="1.6" fill="#ee3a26"/>
<polyline points="307.8,265.6 344.2,218.4 380.6,208.6 417.0,201.6 453.5,196.4" fill="none" stroke="#2034d8" stroke-width="1.5" stroke-linejoin="round"/>
<circle cx="344.2" cy="218.4" r="1.6" fill="#2034d8"/>
<circle cx="380.6" cy="208.6" r="1.6" fill="#2034d8"/>
<circle cx="417.0" cy="201.6" r="1.6" fill="#2034d8"/>
<circle cx="453.5" cy="196.4" r="1.6" fill="#2034d8"/>
<rect x="306.1" y="263.9" width="3.4" height="3.4" fill="#2828a8"/>
<line x1="457.3" y1="227.4" x2="468.3" y2="227.4" stroke="#2034d8" stroke-width="1.6"/>
<circle cx="462.8" cy="227.4" r="1.6" fill="#2034d8"/>
<line x1="457.3" y1="238.6" x2="468.3" y2="238.6" stroke="#ee3a26" stroke-width="1.6"/>
<circle cx="462.8" cy="238.6" r="1.6" fill="#ee3a26"/>
<text x="473.60" y="227.50" font-size="7.9" text-anchor="start" font-weight="normal" fill="#111" dominant-baseline="central" textLength="11.30" lengthAdjust="spacingAndGlyphs" stroke="#111" stroke-width="0.2">IDd</text>
<text x="473.20" y="238.70" font-size="7.9" text-anchor="start" font-weight="normal" fill="#111" dominant-baseline="central" textLength="10.90" lengthAdjust="spacingAndGlyphs" stroke="#111" stroke-width="0.2">IRd</text>
</svg>
</body></html>
